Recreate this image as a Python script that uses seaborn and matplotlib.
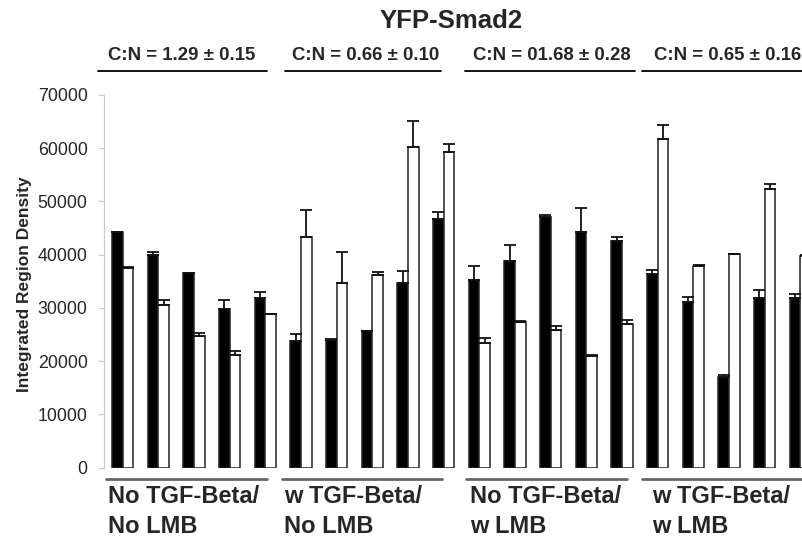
import pandas as pd
import matplotlib.pyplot as plt
import seaborn as sns
from matplotlib.transforms import blended_transform_factory

# values (4 conditions x 5 cells, two bars per cell)
groups = ["No TGF-Beta/\nNo LMB", "w TGF-Beta/\nNo LMB", "No TGF-Beta/\nw LMB", "w TGF-Beta/\nw LMB"]
ratios = ["C:N = 1.29 \u00b1 0.15", "C:N = 0.66 \u00b1 0.10", "C:N = 01.68 \u00b1 0.28", "C:N = 0.65 \u00b1 0.16"]

black_vals = [44200, 40000, 36500, 29800, 31900,
              23800, 24000, 25600, 34700, 46700,
              35200, 38900, 47000, 44300, 42500,
              36400, 31100, 17000, 31800, 31800]
black_err = [150, 450, 150, 1600, 1100,
             1250, 100, 100, 2300, 1250,
             2600, 2900, 450, 4500, 800,
             700, 1050, 450, 1550, 800]
white_vals = [37500, 30500, 24800, 21100, 28900,
              43300, 34700, 36200, 60200, 59200,
              23500, 27400, 25900, 21000, 26900,
              61800, 37900, 40200, 52400, 39700]
white_err = [150, 900, 550, 800, 0,
             5150, 5900, 500, 4900, 1550,
             800, 150, 750, 100, 800,
             2600, 150, 0, 850, 300]

n = len(black_vals)
pos = [str(i) for i in range(n)]
df = pd.DataFrame({
    "pos": pos * 2,
    "series": ["black"] * n + ["white"] * n,
    "value": black_vals + white_vals,
})

sns.set_style("white")
plt.rcParams["font.family"] = ["Liberation Sans", "DejaVu Sans"]

fig = plt.figure(figsize=(8.02, 5.43), dpi=100)
ax = fig.add_axes([0.130, 0.1387, 0.891, 0.6864])

sns.barplot(data=df, x="pos", y="value", hue="series", order=pos,
            palette=["black", "white"], width=0.6, edgecolor="#222222",
            linewidth=1.1, errorbar=None, legend=False, ax=ax)

# one-sided error bars on top of each bar
for cont, errs in zip(ax.containers, [black_err, white_err]):
    xs = [b.get_x() + b.get_width() / 2 for b in cont]
    ys = [b.get_height() for b in cont]
    ax.errorbar(xs, ys, yerr=[[0] * len(errs), errs], fmt="none",
                ecolor="#111111", elinewidth=1.3, capsize=4.5, capthick=1.3)

ax.set_xlim(-0.516, n - 0.484)
ax.set_ylim(0, 70000)
ax.set_yticks(range(0, 70001, 10000))
ax.set_xticks([])
ax.set_xlabel("")
ax.set_ylabel("")
sns.despine(ax=ax, bottom=True)
ax.spines["left"].set_color("#c8c8c8")
ax.tick_params(axis="y", left=True, length=4, color="#c8c8c8", pad=8, labelsize=12.8)

fig.text(0.031, 0.476, "Integrated Region Density", rotation=90, ha="center", va="center",
         fontsize=12.5, fontweight="bold")
fig.text(0.563, 0.962, "YFP-Smad2", ha="center", va="center", fontsize=18.5, fontweight="bold")

tr = blended_transform_factory(ax.transData, fig.transFigure)
top_lines = [(-0.69, 4.05), (4.55, 8.92), (9.6, 14.36), (14.55, 19.6)]
text_x = [1.65, 6.8, 12.04, 16.97]
bot_lines = [(-0.47, 4.05), (4.47, 8.95), (9.62, 14.14), (14.56, 19.6)]
label_x = [-0.41, 4.52, 9.73, 14.84]

for g in range(4):
    ax.plot(top_lines[g], [0.869, 0.869], color="black", lw=1.3, transform=tr, clip_on=False)
    ax.text(text_x[g], 0.897, ratios[g], transform=tr, ha="center", va="center",
            fontsize=13.4, fontweight="bold")
    ax.plot(bot_lines[g], [0.118, 0.118], color="#666666", lw=2, transform=tr, clip_on=False)
    first, second = groups[g].split("\n")
    ax.text(label_x[g], 0.085, first, transform=tr, ha="left", va="center",
            fontsize=17, fontweight="bold")
    ax.text(label_x[g], 0.030, second, transform=tr, ha="left", va="center",
            fontsize=17, fontweight="bold")

fig.savefig("out.png", dpi=100)
